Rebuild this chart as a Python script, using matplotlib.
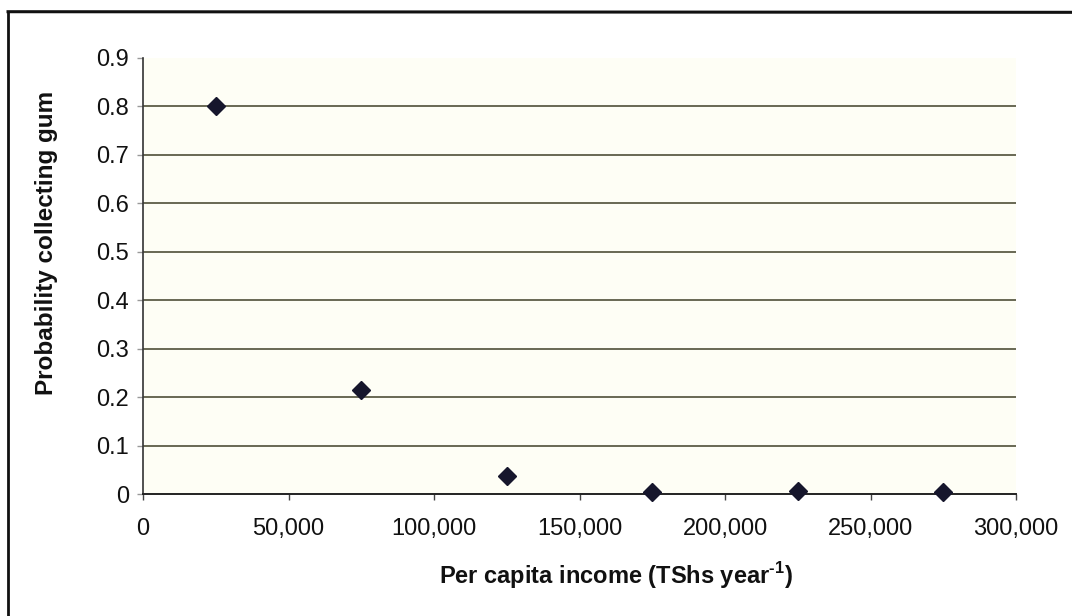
import matplotlib.pyplot as plt
from matplotlib.lines import Line2D
from matplotlib.ticker import FuncFormatter

# === DATA ===
income = [25000, 75000, 125000, 175000, 225000, 275000]
prob_gum = [0.80, 0.215, 0.037, 0.005, 0.007, 0.005]
y_ticks = [0, 0.1, 0.2, 0.3, 0.4, 0.5, 0.6, 0.7, 0.8, 0.9]
x_ticks = [0, 50000, 100000, 150000, 200000, 250000, 300000]

GRID = '#4f4f38'
MARK = '#16162c'

plt.rcParams['font.family'] = ['Liberation Sans', 'DejaVu Sans']
plt.rcParams['mathtext.fontset'] = 'custom'
plt.rcParams['mathtext.rm'] = 'Liberation Sans:bold'
plt.rcParams['mathtext.bf'] = 'Liberation Sans:bold'

fig = plt.figure(figsize=(10.72, 6.16), dpi=100)
fig.patch.set_facecolor('white')
ax = fig.add_axes([0.1334, 0.198, 0.8144, 0.708])
ax.set_facecolor('#fefef5')

# horizontal gridlines (no line at the top value)
for y in y_ticks[1:-1]:
    ax.axhline(y, color=GRID, lw=1.2, zorder=1)

ax.plot(income, prob_gum, linestyle='none', marker='D', ms=9.5,
        color=MARK, markeredgecolor=MARK, zorder=3, clip_on=False)

ax.set_xlim(0, 300000)
ax.set_ylim(0, 0.9)
ax.set_xticks(x_ticks)
ax.set_yticks(y_ticks)
ax.xaxis.set_major_formatter(FuncFormatter(lambda v, p: f'{int(v):,}'))
ax.yaxis.set_major_formatter(FuncFormatter(lambda v, p: '0' if v == 0 else f'{v:.1f}'))

for s in ['top', 'right']:
    ax.spines[s].set_visible(False)
ax.spines['left'].set_color('#333333')
ax.spines['bottom'].set_color('#222222')
ax.spines['left'].set_linewidth(1.2)
ax.spines['bottom'].set_linewidth(1.4)
ax.tick_params(axis='x', direction='out', length=4, width=1, colors='#444444',
               pad=13, labelsize=17, labelcolor='#111111')
ax.tick_params(axis='y', direction='out', length=4, width=1, colors='#999999',
               pad=6, labelsize=17, labelcolor='#111111')

fig.text(0.043, 0.605, 'Probability collecting gum', rotation=90,
         ha='center', va='center', fontsize=17.5, fontweight='bold', color='#111111')
fig.text(0.575, 0.066, r'Per capita income (TShs year$^{\text{-1}}$)',
         ha='center', va='center', fontsize=17, fontweight='bold', color='#111111')

# outer frame (left and top edges)
fig.add_artist(Line2D([0.0075, 0.0075], [0, 0.981], color='#111111', lw=2,
                      transform=fig.transFigure))
fig.add_artist(Line2D([0.0075, 1.0], [0.981, 0.98], color='#111111', lw=2.2,
                      transform=fig.transFigure))

fig.savefig('out.png', dpi=100, facecolor='white')
